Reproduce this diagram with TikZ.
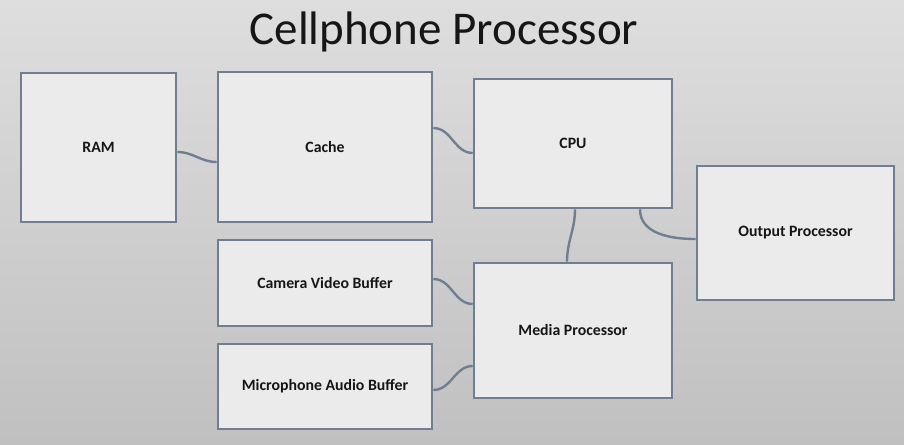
\documentclass[tikz,border=0pt]{standalone}
\usepackage{fontspec}
\setmainfont{Carlito}
\begin{document}
\begin{tikzpicture}[x=1pt,y=-1pt,
  box/.style={draw=boxline, fill=boxfill, line width=2.6pt, inner sep=0pt,
    font=\fontsize{15.8}{18}\selectfont\bfseries, text=labeltext},
  wire/.style={draw=boxline, line width=2.4pt}]
\definecolor{boxline}{HTML}{6F7F91}
\definecolor{boxfill}{HTML}{EBEBEB}
\definecolor{labeltext}{HTML}{161616}
\definecolor{bgtop}{HTML}{DEDEDE}
\definecolor{bgbot}{HTML}{C0C0C0}
\shade[top color=bgtop, bottom color=bgbot] (0,0) rectangle (904,444);
\useasboundingbox (0,0) rectangle (904,444);
\node[font=\fontsize{47}{50}\selectfont, text=labeltext, inner sep=0pt] (title) at (444,32) {Cellphone Processor};
\node[box, minimum width=155pt, minimum height=149pt] (ram) at (98.5,147.5) {RAM};
\node[box, minimum width=214pt, minimum height=150pt] (cache) at (325,147) {Cache};
\node[box, minimum width=198pt, minimum height=129pt] (cpu) at (573,143.5) {CPU};
\node[box, minimum width=197pt, minimum height=134pt] (output) at (795.5,233) {Output Processor};
\node[box, minimum width=214pt, minimum height=86pt] (camera) at (325,283) {Camera Video Buffer};
\node[box, minimum width=198pt, minimum height=135pt] (media) at (573,330.5) {Media Processor};
\node[box, minimum width=214pt, minimum height=85pt] (mic) at (325,386.5) {Microphone Audio Buffer};
\draw[wire] ([yshift=-4.5pt]ram.east) to[out=0,in=180] ([yshift=-15pt]cache.west);
\draw[wire] ([yshift=19pt]cache.east) to[out=0,in=180] ([yshift=-9.5pt]cpu.west);
\draw[wire] ([xshift=2pt]cpu.south) to[out=-90,in=90] ([xshift=-6pt]media.north);
\draw[wire] ([xshift=67pt]cpu.south) to[out=-90,in=180] ([yshift=-6pt]output.west);
\draw[wire] ([yshift=4pt]camera.east) to[out=0,in=180] ([yshift=26.5pt]media.west);
\draw[wire] ([yshift=-3.5pt]mic.east) to[out=0,in=180] ([yshift=-35.5pt]media.west);
\end{tikzpicture}
\end{document}
